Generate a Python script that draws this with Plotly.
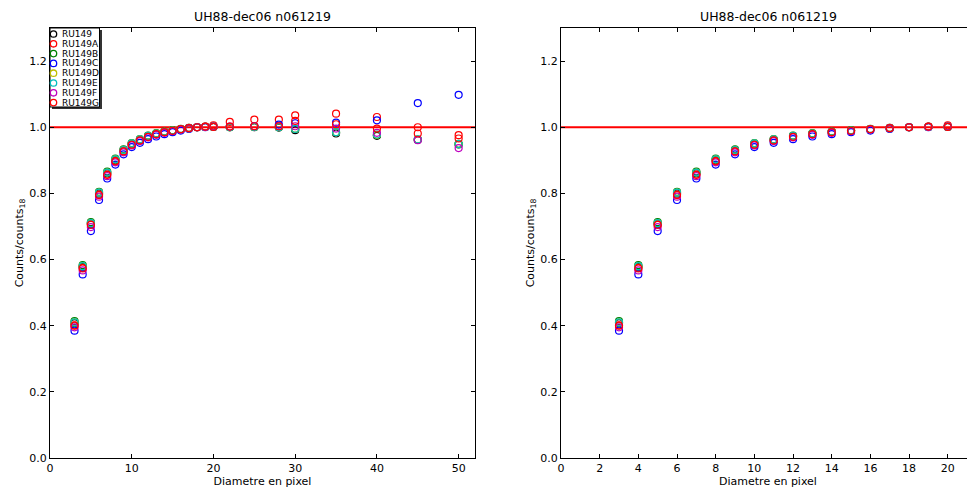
import plotly.graph_objects as go

diam = [3, 4, 5, 6, 7, 8, 9, 10, 11, 12, 13, 14, 15, 16, 17, 18, 19, 20, 22, 25, 28, 30, 35, 40, 45, 50]

series_names = ["RU149", "RU149A", "RU149B", "RU149C", "RU149D", "RU149E", "RU149F", "RU149G"]
series_colors = ["black", "red", "green", "blue", "#bfbf00", "#00bfbf", "#bf00bf", "red"]

ru149 = [0.408, 0.578, 0.709, 0.800, 0.861, 0.901, 0.930, 0.950, 0.962, 0.973, 0.980, 0.986, 0.990, 0.994, 0.997, 1.000, 1.001, 1.001, 1.000, 1.000, 0.999, 0.991, 0.981, 0.974, 0.962, 0.948]
ru149a = [0.401, 0.575, 0.706, 0.796, 0.857, 0.898, 0.928, 0.948, 0.960, 0.972, 0.979, 0.985, 0.989, 0.994, 0.998, 1.000, 1.002, 1.006, 1.016, 1.023, 1.023, 1.036, 1.041, 1.031, 1.000, 0.976]
ru149b = [0.414, 0.583, 0.713, 0.805, 0.866, 0.905, 0.933, 0.952, 0.964, 0.975, 0.982, 0.987, 0.991, 0.995, 0.998, 1.000, 1.001, 1.002, 1.000, 1.001, 1.000, 0.995, 0.985, 0.976, 0.962, 0.950]
ru149c = [0.385, 0.555, 0.686, 0.780, 0.845, 0.887, 0.918, 0.940, 0.953, 0.964, 0.972, 0.979, 0.985, 0.990, 0.995, 1.000, 1.000, 1.001, 1.001, 1.003, 1.008, 1.012, 1.014, 1.021, 1.073, 1.098]
ru149d = [0.410, 0.580, 0.710, 0.802, 0.863, 0.903, 0.931, 0.951, 0.963, 0.974, 0.981, 0.986, 0.990, 0.994, 0.997, 1.000, 1.001, 1.001, 1.000, 1.001, 1.000, 0.995, 0.985, 0.977, 0.963, 0.949]
ru149e = [0.410, 0.580, 0.710, 0.802, 0.863, 0.903, 0.931, 0.951, 0.963, 0.974, 0.981, 0.986, 0.990, 0.994, 0.997, 1.000, 1.001, 1.001, 1.000, 1.001, 1.000, 0.995, 0.985, 0.978, 0.963, 0.949]
ru149f = [0.395, 0.567, 0.698, 0.790, 0.852, 0.894, 0.924, 0.945, 0.958, 0.969, 0.977, 0.983, 0.988, 0.993, 0.997, 1.000, 1.001, 1.002, 1.002, 1.003, 1.003, 1.003, 0.996, 0.983, 0.961, 0.937]
ru149g = [0.400, 0.573, 0.705, 0.795, 0.856, 0.897, 0.927, 0.947, 0.960, 0.971, 0.979, 0.985, 0.989, 0.994, 0.997, 1.000, 1.002, 1.001, 1.002, 1.003, 1.003, 1.019, 1.009, 0.996, 0.981, 0.966]

all_series = [ru149, ru149a, ru149b, ru149c, ru149d, ru149e, ru149f, ru149g]

right_max_diam = 20
title_text = "UH88-dec06 n061219"
xlabel = "Diametre en pixel"
ylabel = "Counts/counts<sub>18</sub>"

# page is drawn with an 8px body margin: compensate
OFF = 8
W, H = 975 - OFF, 488 - OFF


def px(X):
    return (X - OFF) / W


def py(Y):
    return 1 - (Y - OFF) / H


fig = go.Figure()

for name, col, vals in zip(series_names, series_colors, all_series):
    fig.add_trace(go.Scatter(
        x=diam, y=vals, mode="markers", name=name,
        marker=dict(symbol="circle-open", size=7, color=col, line=dict(width=1.2, color=col)),
        xaxis="x", yaxis="y", showlegend=False))

for name, col, vals in zip(series_names, series_colors, all_series):
    xs = [d for d in diam if d <= right_max_diam]
    ys = [v for d, v in zip(diam, vals) if d <= right_max_diam]
    fig.add_trace(go.Scatter(
        x=xs, y=ys, mode="markers", name=name,
        marker=dict(symbol="circle-open", size=7, color=col, line=dict(width=1.2, color=col)),
        xaxis="x2", yaxis="y2", showlegend=False))

axis_common = dict(
    showline=True, linecolor="black", linewidth=1, mirror="ticks",
    ticks="inside", ticklen=4, tickcolor="black", showgrid=False, zeroline=False,
    tickfont=dict(family="DejaVu Sans", size=11, color="black"), automargin=False,
)

ydom = [py(458), py(28)]

shapes = [
    dict(type="line", xref="x domain", yref="y", x0=0, x1=1, y0=1, y1=1,
         line=dict(color="red", width=2), layer="below"),
    dict(type="line", xref="x2 domain", yref="y2", x0=0, x1=1, y0=1, y1=1,
         line=dict(color="red", width=2), layer="below"),
    # legend shadow and box
    dict(type="rect", xref="paper", yref="paper", x0=px(52), x1=px(102), y0=py(109), y1=py(30),
         fillcolor="#333333", line=dict(width=0), layer="above"),
    dict(type="rect", xref="paper", yref="paper", x0=px(50), x1=px(99.5), y0=py(107), y1=py(28),
         fillcolor="white", line=dict(color="black", width=1), layer="above"),
]

annotations = [
    dict(text=title_text, xref="x domain", yref="paper", x=0.5, y=ydom[1], yshift=2,
         xanchor="center", yanchor="bottom", showarrow=False, font=dict(size=12.5, color="black")),
    dict(text=title_text, xref="x2 domain", yref="paper", x=0.5, y=ydom[1], yshift=2,
         xanchor="center", yanchor="bottom", showarrow=False, font=dict(size=12.5, color="black")),
]

for i, (name, col) in enumerate(zip(series_names, series_colors)):
    yc = 34 + i * 9.8
    shapes.append(dict(type="circle", xref="paper", yref="paper",
                       x0=px(53.5 - 3.2), x1=px(53.5 + 3.2), y0=py(yc + 3.2), y1=py(yc - 3.2),
                       line=dict(color=col, width=1.3), fillcolor="rgba(0,0,0,0)", layer="above"))
    annotations.append(dict(text=name, xref="paper", yref="paper", x=px(60), y=py(yc),
                            xanchor="left", yanchor="middle", showarrow=False,
                            font=dict(size=9, color="black")))

fig.update_layout(
    width=W, height=H,
    margin=dict(l=0, r=0, t=0, b=0, pad=0),
    paper_bgcolor="white", plot_bgcolor="white",
    font=dict(family="DejaVu Sans", size=11, color="black"),
    xaxis=dict(domain=[px(50), px(475)], range=[0, 52], tickvals=[0, 10, 20, 30, 40, 50],
               title=dict(text=xlabel, standoff=0, font=dict(size=11)), anchor="y", **axis_common),
    yaxis=dict(domain=ydom, range=[0, 1.3], tickvals=[0, 0.2, 0.4, 0.6, 0.8, 1.0, 1.2], tickformat=".1f",
               title=dict(text=ylabel, standoff=3, font=dict(size=11)), anchor="x", **axis_common),
    xaxis2=dict(domain=[px(561), 1.0], range=[0, 21.41], tickvals=list(range(0, 21, 2)),
                title=dict(text=xlabel, standoff=0, font=dict(size=11)), anchor="y2", **axis_common),
    yaxis2=dict(domain=ydom, range=[0, 1.3], tickvals=[0, 0.2, 0.4, 0.6, 0.8, 1.0, 1.2], tickformat=".1f",
                title=dict(text=ylabel, standoff=3, font=dict(size=11)), anchor="x2", **axis_common),
    showlegend=False,
    shapes=shapes,
    annotations=annotations,
)

fig.write_html("out.html")
